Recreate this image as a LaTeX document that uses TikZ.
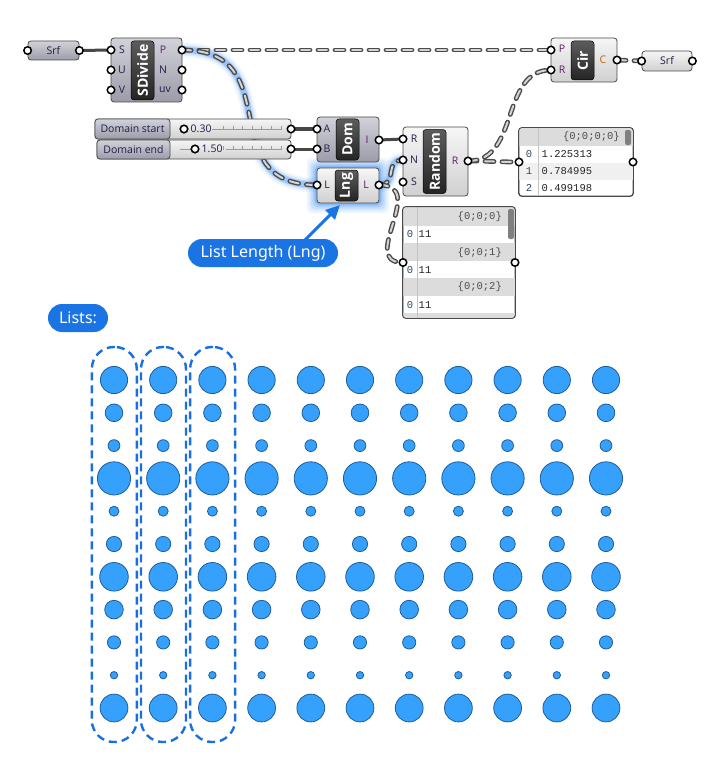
\documentclass[tikz,border=0pt]{standalone}
\usepackage{fontspec}
\setmainfont{Open Sans}
\newfontfamily\uifont{Noto Sans}
\newfontfamily\pmono{Liberation Mono}
\usetikzlibrary{arrows.meta,calc,backgrounds}

\definecolor{wired}{HTML}{474747}
\definecolor{treeout}{HTML}{4A4A4A}
\definecolor{treein}{HTML}{D4D4D4}
\definecolor{glowb}{HTML}{3C8CF0}
\definecolor{cdtop}{HTML}{D2D2DA}
\definecolor{cdbot}{HTML}{9C9CAA}
\definecolor{cltop}{HTML}{F6F6F6}
\definecolor{clbot}{HTML}{D0D0D0}
\definecolor{nbtop}{HTML}{5C5C5C}
\definecolor{nbbot}{HTML}{242424}
\definecolor{cborder}{HTML}{4A4A4A}
\definecolor{plab}{HTML}{1E1E46}
\definecolor{plabp}{HTML}{5E1E6E}
\definecolor{plabo}{HTML}{B86A00}
\definecolor{hdrfill}{HTML}{DCDCDC}
\definecolor{rowalt}{HTML}{F0F0F0}
\definecolor{sepc}{HTML}{C4C4C4}
\definecolor{idxc}{HTML}{2A4A6A}
\definecolor{calloutb}{HTML}{1B74E4}
\definecolor{dotfill}{HTML}{36A1FC}
\definecolor{dotline}{HTML}{1E5C9C}
\definecolor{capblue}{HTML}{1A6FE0}
\definecolor{trackc}{HTML}{9A9A9A}

\newcommand{\glowpath}[1]{\foreach \gw/\go in {15/0.07,11/0.11,8/0.17,6/0.28}{\draw[glowb, line width=\gw pt, opacity=\go, line cap=round] #1;}}

\tikzset{
  compdark/.style={draw=cborder, line width=0.8pt, rounded corners=3pt, top color=cdtop, bottom color=cdbot, inner sep=0pt},
  complight/.style={draw=cborder, line width=0.8pt, rounded corners=3pt, top color=cltop, bottom color=clbot, inner sep=0pt},
  namebox/.style={rounded corners=3pt, top color=nbtop, bottom color=nbbot, draw=black, line width=0.5pt, text=white, font=\bfseries\fontsize{14}{16}\selectfont, inner sep=0pt, rotate=90},
  grip/.style={circle, draw=black, fill=white, line width=1.5pt, minimum size=7.5pt, inner sep=0pt},
  knob/.style={circle, draw=black, fill=white, line width=1.6pt, minimum size=7.5pt, inner sep=0pt},
  plabel/.style={font=\fontsize{10.5}{12}\selectfont, text=plab, inner sep=0pt},
  slabel/.style={font=\fontsize{10.5}{12}\selectfont, text=plab, inner sep=0pt},
  wire/.style={draw=wired, line width=3pt},
  treewire/.style={draw=treeout, line width=1.4pt, double=treein, double distance=2pt, dash pattern=on 9pt off 8pt, line cap=round},
  track/.style={draw=trackc, line width=0.7pt},
  panel/.style={draw=cborder, fill=white, line width=0.8pt, rounded corners=3pt, inner sep=0pt},
  pmtext/.style={font=\pmono\fontsize{10.5}{12}\selectfont, inner sep=0pt, text=black!85},
  pmidx/.style={font=\pmono\fontsize{10.5}{12}\selectfont, inner sep=0pt, text=idxc},
  callout/.style={fill=calloutb, text=white, rounded corners=14pt, font=\uifont\fontsize{16}{18}\selectfont, inner sep=0pt},
  callarrow/.style={draw=calloutb, line width=3pt, -{Triangle[length=14pt,width=13pt]}},
  listcap/.style={draw=capblue, line width=2.4pt, dash pattern=on 8pt off 5pt, rounded corners=22pt, inner sep=0pt},
  dot/.style={fill=dotfill, draw=dotline, line width=0.8pt}
}

\begin{document}
\begin{tikzpicture}[x=1pt,y=-1pt]
\useasboundingbox (0,0) rectangle (713,781);

% ---------------- components ----------------
% Srf (left)
\node[compdark, minimum width=51pt, minimum height=19pt] (srfA) at (53.5,50.5) {};
\node[plabel] (srfAt) at (53.5,50.5) {Srf};
\node[grip] (srfAin) at (srfA.west) {};
\node[grip] (srfAout) at (srfA.east) {};

% SDivide
\node[compdark, minimum width=71pt, minimum height=64pt] (sdiv) at (146.5,70) {};
\node[namebox, minimum width=59pt, minimum height=23pt] (sdivn) at (142.5,70.5) {SDivide};
\node[grip] (sdivS) at (111,50) {};
\node[grip] (sdivU) at (111,70) {};
\node[grip] (sdivV) at (111,90) {};
\node[grip] (sdivP) at (182,50) {};
\node[grip] (sdivN) at (182,70) {};
\node[grip] (sdivUV) at (182,90) {};
\node[plabel] (lS) at (122,50) {S};
\node[plabel] (lU) at (122,70) {U};
\node[plabel] (lV) at (122,90) {V};
\node[plabel, text=plabp] (lP) at (163,50) {P};
\node[plabel] (lN) at (163,70) {N};
\node[plabel] (lUV) at (165,90) {uv};

% Cir
\node[complight, minimum width=66pt, minimum height=44pt] (cir) at (584,60) {};
\node[namebox, minimum width=39pt, minimum height=23pt] (cirn) at (582.5,60.5) {Cir};
\node[grip] (cirP) at (551,50) {};
\node[grip] (cirR) at (551,70) {};
\node[grip] (cirC) at (617,60) {};
\node[plabel, text=plabp] (lcP) at (562,49) {P};
\node[plabel, text=plabp] (lcR) at (562,70) {R};
\node[plabel, text=plabo] (lcC) at (603,60) {C};

% Srf (right)
\node[complight, minimum width=50pt, minimum height=20pt] (srfB) at (667,61) {};
\node[plabel] (srfBt) at (667,61) {Srf};
\node[grip] (srfBin) at (srfB.west) {};
\node[grip] (srfBout) at (srfB.east) {};

% Sliders
\node[complight, minimum width=196pt, minimum height=20pt] (sl1) at (193,129) {};
\node[compdark, minimum width=75pt, minimum height=20pt, slabel] (sl1l) at (132.5,129) {Domain start};
\node[complight, minimum width=194pt, minimum height=19pt] (sl2) at (194,149.5) {};
\node[compdark, minimum width=73pt, minimum height=19pt, slabel] (sl2l) at (133.5,149.5) {Domain end};
\draw[track] (180,129) -- (186,129) (212,129) -- (281,129);
\draw[track] (180,149) -- (195,149) (226,149) -- (281,149);
\foreach \k in {0,...,6}{
  \draw[track] (281-9.6*\k,126) -- (281-9.6*\k,130);
  \draw[track] (281-9.6*\k,146) -- (281-9.6*\k,150);
}
\node[knob] (k1) at (184,129) {};
\node[knob] (k2) at (195,149) {};
\node[slabel, anchor=west] (v1) at (190.5,128.5) {0.30};
\node[slabel, anchor=west] (v2) at (201.5,148.5) {1.50};
\node[grip] (sl1out) at (291,129) {};
\node[grip] (sl2out) at (291,149) {};

% Dom
\node[compdark, minimum width=62pt, minimum height=45pt] (dom) at (348,139.5) {};
\node[namebox, minimum width=41pt, minimum height=23pt] (domn) at (347.5,139.5) {Dom};
\node[grip] (domA) at (317,129) {};
\node[grip] (domB) at (317,149) {};
\node[grip] (domI) at (379,140) {};
\node[plabel] (ldA) at (327,128.5) {A};
\node[plabel] (ldB) at (327,149) {B};
\node[plabel, text=plabp] (ldI) at (367,140) {I};

% Lng
\node[complight, minimum width=62pt, minimum height=35pt] (lng) at (348,185.5) {};
\node[namebox, minimum width=31pt, minimum height=23pt] (lngn) at (346.5,185.5) {Lng};
\node[grip] (lngIn) at (317,185) {};
\node[grip] (lngOut) at (379,185) {};
\node[plabel] (llI) at (327,185) {L};
\node[plabel, text=plabp] (llO) at (366,185) {L};

% Random
\node[complight, minimum width=65pt, minimum height=69pt] (rnd) at (435.5,161.5) {};
\node[namebox, minimum width=64pt, minimum height=23pt] (rndn) at (434.5,161.5) {Random};
\node[grip] (rndR) at (403,139) {};
\node[grip] (rndN) at (403,160) {};
\node[grip] (rndS) at (403,182) {};
\node[grip] (rndOut) at (468,161) {};
\node[plabel] (lrR) at (414,139) {R};
\node[plabel] (lrN) at (414,160) {N};
\node[plabel] (lrS) at (414,182) {S};
\node[plabel, text=plabp] (lrO) at (455,161) {R};

% Panel 1
\node[panel, minimum width=114pt, minimum height=68pt] (pan1) at (576,162) {};
\begin{scope}
  \clip[rounded corners=3pt] (519,128) rectangle (633,196);
  \fill[hdrfill] (519,128) rectangle (633,145.5);
  \fill[rowalt] (519,162.5) rectangle (633,179.5);
  \draw[sepc, line width=0.6pt] (538,128) -- (538,196);
  \fill[black!50, rounded corners=2pt] (625,130) rectangle (631,145);
\end{scope}
\draw[draw=cborder, line width=0.8pt, rounded corners=3pt] (pan1.north west) rectangle (pan1.south east);
\node[pmtext, anchor=east, text=black!70] (p1h) at (620,137) {\{0;0;0;0\}};
\node[pmidx] (p1i0) at (529,154) {0};
\node[pmidx] (p1i1) at (529,171) {1};
\node[pmidx] (p1i2) at (529,188) {2};
\node[pmtext, anchor=west] (p1d0) at (541.5,154) {1.225313};
\node[pmtext, anchor=west] (p1d1) at (541.5,171) {0.784995};
\node[pmtext, anchor=west] (p1d2) at (541.5,188) {0.499198};
\node[grip] (pan1in) at (519,162) {};
\node[grip] (pan1out) at (633,162) {};

% Panel 2
\node[panel, minimum width=112pt, minimum height=111pt] (pan2) at (459,262.5) {};
\begin{scope}
  \clip[rounded corners=3pt] (403,207) rectangle (515,318);
  \fill[hdrfill] (403,207) rectangle (515,226);
  \fill[hdrfill] (403,243) rectangle (515,261);
  \fill[hdrfill] (403,278) rectangle (515,296);
  \fill[hdrfill] (403,313) rectangle (515,318);
  \draw[sepc, line width=0.6pt] (417,207) -- (417,318);
  \fill[black!50, rounded corners=2pt] (508,209) rectangle (514,239);
\end{scope}
\draw[draw=cborder, line width=0.8pt, rounded corners=3pt] (pan2.north west) rectangle (pan2.south east);
\node[pmtext, anchor=east, text=black!70] (p2h0) at (502,217) {\{0;0;0\}};
\node[pmtext, anchor=east, text=black!70] (p2h1) at (502,253) {\{0;0;1\}};
\node[pmtext, anchor=east, text=black!70] (p2h2) at (502,287) {\{0;0;2\}};
\node[pmidx] (p2i0) at (410,234) {0};
\node[pmidx] (p2i1) at (410,270) {0};
\node[pmidx] (p2i2) at (410,305) {0};
\node[pmtext, anchor=west] (p2d0) at (418.5,234) {11};
\node[pmtext, anchor=west] (p2d1) at (418.5,270) {11};
\node[pmtext, anchor=west] (p2d2) at (418.5,305) {11};
\node[grip] (pan2in) at (403,262.5) {};
\node[grip] (pan2out) at (515,262.5) {};

% ---------------- wires (behind) ----------------
\begin{scope}[on background layer]
  \foreach \g/\o in {10/0.07,8/0.1,6/0.14,4/0.2,2/0.3}{
    \fill[glowb, opacity=\o, rounded corners=6pt] ($(lng.south west)+(-\g,\g)$) rectangle ($(lng.north east)+(\g,-\g)$);
  }
  \glowpath{(sdivP.center) .. controls +(108,0) and +(-107,0) .. (lngIn.center)}
  \glowpath{(lngOut.center) .. controls +(20,0) and +(-20,0) .. (rndN.center)}
  \draw[wire] (srfAout.center) -- (sdivS.center);
  \draw[wire] (sl1out.center) -- (domA.center);
  \draw[wire] (sl2out.center) -- (domB.center);
  \draw[wire] (domI.center) -- (rndR.center);
  \draw[treewire] (sdivP.center) -- (cirP.center);
  \draw[treewire] (sdivP.center) .. controls +(108,0) and +(-107,0) .. (lngIn.center);
  \draw[treewire] (lngOut.center) .. controls +(20,0) and +(-20,0) .. (rndN.center);
  \draw[treewire] (lngOut.center) .. controls +(50,0) and +(-45,0) .. (pan2in.center);
  \draw[treewire] (rndOut.center) .. controls +(20,0) and +(-20,0) .. (pan1in.center);
  \draw[treewire] (rndOut.center) .. controls +(52,0) and +(-51,0) .. (cirR.center);
  \draw[treewire] (cirC.center) -- (srfBin.center);
\end{scope}

% ---------------- callouts ----------------
\node[callout, minimum width=150pt, minimum height=28pt] (cl) at (263,253) {List Length (Lng)};
\coordinate (clstart) at (305,240);
\coordinate (lngtip) at (340,205);
\draw[callarrow] (clstart) -- (lngtip);
\node[callout, minimum width=60pt, minimum height=28pt] (lists) at (78,318) {Lists:};

% ---------------- list dots ----------------
\foreach \r [count=\j from 0] in {13.6,8.8,5.9,16.6,5,7.6,14.3,9.3,6.6,3.7,13.9}{
  \foreach \i in {0,...,10}{
    \filldraw[dot] (114+49.2*\i, 380+32.8*\j) circle (\r);
  }
}
\node[listcap, minimum width=45pt, minimum height=395pt] (list1) at (114.3,544.5) {};
\node[listcap, minimum width=45pt, minimum height=395pt] (list2) at (163.5,544.5) {};
\node[listcap, minimum width=45pt, minimum height=395pt] (list3) at (212.6,544.5) {};
\end{tikzpicture}
\end{document}
